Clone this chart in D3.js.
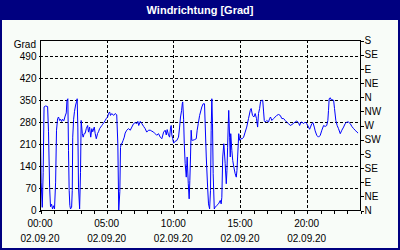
<!DOCTYPE html>
<html>
<head>
<meta charset="utf-8">
<title>Windrichtung</title>
<style>
    body { margin: 0; padding: 0; background: #fff; }
    svg { display: block; }
    text { font-family: "Liberation Sans", Arial, sans-serif; font-size: 10px; fill: #000; }
</style>
</head>
<body>
<div class="plot_container"></div>
<script src="https://d3js.org/d3.v7.min.js"></script>
<script type="text/javascript">
    // Messzeit in Minuten ab 02.09.20 00:00
    var minuten = [0,3,8,12,16,23,32,36,41,45,50,54,59,63,68,72,77,81,86,90,95,99,105,111,116,119,123,126,129,132,
        135,140,143,145,149,153,158,162,165,168,171,176,180,183,188,192,197,201,206,212,216,221,226,231,235,242,246,251,257,261,
        266,271,276,280,287,291,296,302,306,311,315,321,329,336,343,348,352,357,360,363,366,372,377,381,388,396,404,411,419,426,
        433,438,442,449,456,464,471,478,486,494,501,509,516,523,531,539,546,554,561,566,570,576,581,585,588,591,595,599,606,613,
        621,626,630,635,638,640,644,647,651,656,660,665,669,672,675,678,681,685,693,701,705,710,716,726,732,738,741,746,752,756,
        761,765,768,771,774,777,782,786,793,801,809,813,816,820,825,831,836,839,842,845,847,851,854,856,861,865,870,876,881,884,
        887,890,892,896,901,908,914,921,928,936,944,948,954,960,966,972,977,981,986,990,995,1000,1004,1007,1011,1018,1026,1031,1035,1041,
        1049,1056,1063,1071,1079,1086,1094,1101,1108,1116,1124,1131,1139,1146,1153,1161,1166,1171,1176,1184,1191,1198,1206,1211,1215,1221,
        1226,1232,1236,1243,1251,1259,1266,1274,1281,1288,1293,1296,1299,1304,1308,1314,1319,1323,1329,1335,1341,1349,1356,1364,1371,1379,
        1386,1394,1401,1409,1416,1424,1429];
    var grad = [228,90,10,120,329,332,330,250,74,12,20,5,15,5,90,255,292,297,286,290,283,290,285,300,310,350,355,190,64,16,
        5,10,64,233,290,315,335,345,355,265,74,5,120,286,245,233,245,245,260,270,249,265,233,260,250,265,245,228,245,250,
        260,265,270,274,281,286,292,297,308,313,302,308,302,308,304,212,0,60,200,212,212,223,233,246,255,260,255,265,276,279,
        276,283,270,283,276,267,260,249,255,255,252,249,244,239,244,233,228,249,255,240,257,240,233,262,270,240,228,214,220,222,
        233,265,297,318,339,345,290,212,149,106,170,85,37,95,170,255,223,223,225,228,255,276,302,329,339,339,276,170,74,21,
        5,64,255,355,276,117,5,10,16,21,32,21,42,170,212,149,85,127,201,276,318,233,170,244,191,159,138,117,106,127,
        170,212,244,223,228,228,233,249,265,292,318,324,302,297,308,292,265,308,324,345,350,350,313,286,281,286,281,292,297,286,
        292,297,302,305,302,292,292,286,281,276,270,273,277,281,284,279,270,279,281,276,281,276,265,258,265,276,
        279,265,253,239,233,239,255,270,267,270,286,318,355,358,352,352,350,324,286,270,260,244,255,265,276,281,
        281,276,267,260,255,249,246];

    var links_ticks = [0,70,140,210,280,350,420,490];
    var rechts_ticks = ["N","NE","E","SE","S","SW","W","NW","N","NE","E","SE","S"];
    var zeit_labels = ["00:00","05:00","10:00","15:00","20:00"];
    var datum = "02.09.20";
    var titel = "Windrichtung [Grad]";

    var width = 400;
    var height = 250;
    var pLeft = 40, pRight = 360, pTop = 40, pBottom = 210;

    var svg = d3.select(".plot_container").append("svg")
            .attr("width", width)
            .attr("height", height);

    // rahmen + titel
    svg.append("rect")
            .attr("x", 1).attr("y", 1)
            .attr("width", width - 2).attr("height", height - 2)
            .attr("fill", "#f8fcf8")
            .attr("stroke", "#000080")
            .attr("stroke-width", 2);
    svg.append("rect")
            .attr("x", 0).attr("y", 0)
            .attr("width", width).attr("height", 20)
            .attr("fill", "#000080");
    svg.append("text")
            .attr("x", width / 2).attr("y", 14)
            .attr("text-anchor", "middle")
            .style("font-size", "11px")
            .style("font-weight", "bold")
            .style("fill", "#fff")
            .text(titel);

    var x = d3.scaleLinear().domain([0, 1440]).range([pLeft, pRight]);
    var y = d3.scaleLinear().domain([0, 540]).range([pBottom, pTop]);

    // gitter
    var grid = svg.append("g")
            .attr("stroke", "#000")
            .attr("stroke-dasharray", "3,2")
            .attr("shape-rendering", "crispEdges");
    grid.selectAll(".hgrid")
            .data(links_ticks.slice(1))
            .enter().append("line")
            .attr("class", "hgrid")
            .attr("x1", pLeft).attr("x2", pRight)
            .attr("y1", function(d){ return Math.round(y(d)) + 0.5; })
            .attr("y2", function(d){ return Math.round(y(d)) + 0.5; });
    grid.selectAll(".vgrid")
            .data(zeit_labels.slice(1))
            .enter().append("line")
            .attr("class", "vgrid")
            .attr("x1", function(d,i){ return Math.round(x((i + 1) * 300)) + 0.5; })
            .attr("x2", function(d,i){ return Math.round(x((i + 1) * 300)) + 0.5; })
            .attr("y1", pTop).attr("y2", pBottom);

    // datenlinie
    var line = d3.line()
            .x(function(d){ return x(d[0]) + 0.5; })
            .y(function(d){ return y(d[1]) + 0.5; });
    svg.append("path")
            .datum(d3.zip(minuten, grad))
            .attr("d", line)
            .attr("fill", "none")
            .attr("stroke", "#0000ff")
            .attr("stroke-width", 1);

    // plotrahmen
    svg.append("rect")
            .attr("x", pLeft + 0.5).attr("y", pTop + 0.5)
            .attr("width", pRight - pLeft).attr("height", pBottom - pTop)
            .attr("fill", "none")
            .attr("stroke", "#000")
            .attr("shape-rendering", "crispEdges");

    // achsen
    var yLeft = svg.append("g")
            .attr("transform", "translate(" + (pLeft + 0.5) + ",0.5)")
            .call(d3.axisLeft(y).tickValues(links_ticks).tickSize(2).tickPadding(2));
    var yRight = svg.append("g")
            .attr("transform", "translate(" + (pRight + 0.5) + ",0.5)")
            .call(d3.axisRight(y).tickValues(d3.range(0, 541, 45)).tickSize(3).tickPadding(1)
                .tickFormat(function(d,i){ return rechts_ticks[i]; }));
    var xAxis = svg.append("g")
            .attr("transform", "translate(0.5," + (pBottom + 0.5) + ")")
            .call(d3.axisBottom(x).tickValues(d3.range(0, 1441, 60)).tickSize(3).tickFormat(""));

    [yLeft, yRight, xAxis].forEach(function(g){
        g.select(".domain").remove();
        g.selectAll("line").attr("stroke", "#000").attr("shape-rendering", "crispEdges");
        g.selectAll("text").attr("font-family", null).attr("font-size", null);
    });

    svg.append("text")
            .attr("x", 36).attr("y", 48)
            .attr("text-anchor", "end")
            .text("Grad");

    var xl = svg.selectAll(".xlabel")
            .data(zeit_labels)
            .enter().append("g")
            .attr("class", "xlabel")
            .attr("transform", function(d,i){ return "translate(" + x(i * 300) + ",0)"; });
    xl.append("text")
            .attr("y", 227)
            .attr("text-anchor", "middle")
            .text(function(d){ return d; });
    xl.append("text")
            .attr("y", 242)
            .attr("text-anchor", "middle")
            .text(datum);
</script>
</body>
</html>
